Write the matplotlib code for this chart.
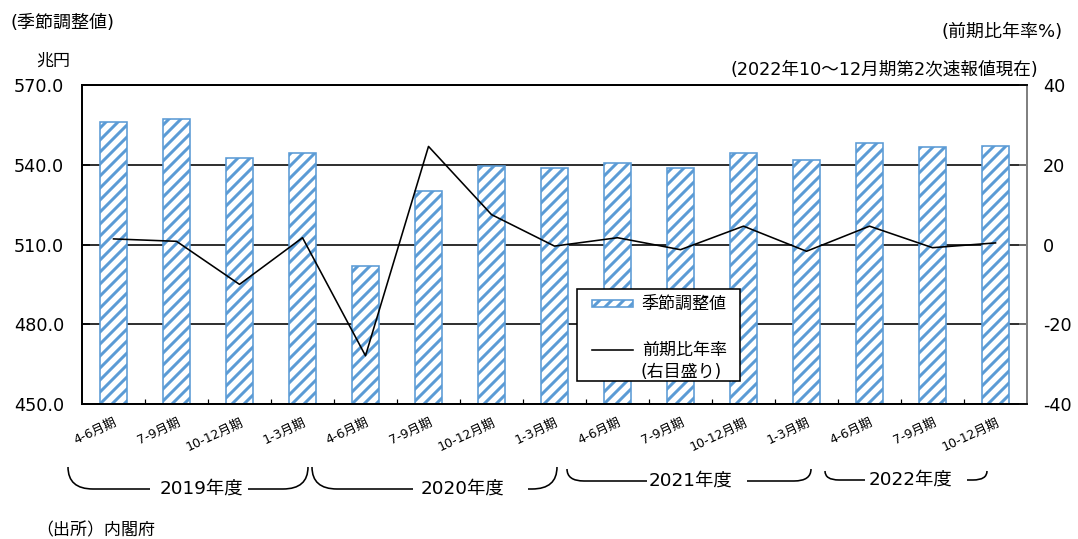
import matplotlib
matplotlib.use("Agg")
import matplotlib.pyplot as plt
from matplotlib.patches import Rectangle, PathPatch
from matplotlib.lines import Line2D
from matplotlib.path import Path
from matplotlib.ticker import FixedLocator

# ---------------- data ----------------
quarters = ["4-6月期", "7-9月期", "10-12月期", "1-3月期",
            "4-6月期", "7-9月期", "10-12月期", "1-3月期",
            "4-6月期", "7-9月期", "10-12月期", "1-3月期",
            "4-6月期", "7-9月期", "10-12月期"]
gdp_sa = [555.9, 557.1, 542.5, 544.4,
          501.9, 530.0, 539.4, 538.8,
          540.6, 538.8, 544.4, 541.9,
          548.1, 546.5, 547.1]
qoq_annual = [1.4, 0.8, -10.0, 1.7,
              -27.9, 24.6, 7.5, -0.4,
              1.7, -1.3, 4.6, -1.7,
              4.6, -0.8, 0.4]
fiscal_years = ["2019年度", "2020年度", "2021年度", "2022年度"]
left_ticks = [450, 480, 510, 540, 570]
right_ticks = [-40, -20, 0, 20, 40]

# ---------------- style ----------------
DPI = 144
W, H = 1078, 539
BLUE = "#5B9BD5"
FONT = ["DejaVu Sans", "Noto Sans CJK JP"]
plt.rcParams["font.family"] = FONT
plt.rcParams["hatch.linewidth"] = 1.5
plt.rcParams["hatch.color"] = BLUE
HATCH = "////"

fig = plt.figure(figsize=(W / DPI, H / DPI), dpi=DPI)


def fx(px):
    return px / W


def fy(py):
    return 1 - py / H


ax = fig.add_axes([fx(82), fy(404), fx(1027) - fx(82), fy(85) - fy(404)])
ax2 = ax.twinx()

x = list(range(len(quarters)))
ax.bar(x, gdp_sa, width=0.42, color="white", edgecolor=BLUE,
       linewidth=0.8, hatch=HATCH, zorder=2)
ax.set_ylim(450, 570)
ax.set_xlim(-0.5, len(quarters) - 0.5)
ax.set_yticks(left_ticks)
ax.set_yticklabels([f"{v:.1f}" for v in left_ticks], fontsize=8.8)
ax.tick_params(axis="y", direction="in", length=4, width=0.75, pad=9)
ax.set_axisbelow(True)
ax.grid(axis="y", color="black", linewidth=0.8)
ax.set_xticks(x)
ax.set_xticklabels(quarters, fontsize=6.3, rotation=25, ha="right",
                   va="top", rotation_mode="anchor")
ax.tick_params(axis="x", which="major", length=0, pad=6)
ax.xaxis.set_minor_locator(FixedLocator([i + 0.5 for i in x[:-1]]))
ax.tick_params(axis="x", which="minor", direction="in", length=2.5, width=0.6)

ax2.plot(x, qoq_annual, color="black", linewidth=0.8, zorder=3)
ax2.set_ylim(-40, 40)
ax2.set_yticks(right_ticks)
ax2.set_yticklabels([str(v) for v in right_ticks], fontsize=8.8)
ax2.tick_params(axis="y", direction="in", length=4, width=0.75,
                color="#808080", pad=8)

for a in (ax, ax2):
    for s in ("left", "top", "bottom"):
        a.spines[s].set_color("black")
        a.spines[s].set_linewidth(0.9)
    a.spines["right"].set_color("#808080")
    a.spines["right"].set_linewidth(0.9)

# ---------------- texts ----------------
fig.text(fx(10), fy(23), "(季節調整値)", fontsize=9, ha="left", va="center")
fig.text(fx(36), fy(61), "兆円", fontsize=8.5, ha="left", va="center")
fig.text(fx(1063), fy(32), "(前期比年率%)", fontsize=9, ha="right", va="center")
fig.text(fx(1038), fy(70), "(2022年10～12月期第2次速報値現在)", fontsize=8.8,
         ha="right", va="center")
fig.text(fx(36), fy(530), "（出所）内閣府", fontsize=8.5, ha="left", va="center")

# ---------------- legend (manual) ----------------
fig.add_artist(Rectangle((fx(577), fy(381)), fx(740) - fx(577), fy(289) - fy(381),
                         transform=fig.transFigure, facecolor="white",
                         edgecolor="black", linewidth=0.8, zorder=5))
fig.add_artist(Rectangle((fx(592), fy(307)), fx(633) - fx(592), fy(300) - fy(307),
                         transform=fig.transFigure, facecolor="white",
                         edgecolor=BLUE, hatch=HATCH, linewidth=0.8, zorder=6))
fig.text(fx(642), fy(304), "季節調整値", fontsize=8.5, ha="left", va="center", zorder=7)
fig.add_artist(Line2D([fx(592), fx(633)], [fy(350), fy(350)], color="black",
                      linewidth=0.8, transform=fig.transFigure, zorder=6))
fig.text(fx(642), fy(350), "前期比年率", fontsize=8.5, ha="left", va="center", zorder=7)
fig.text(fx(640), fy(372), "(右目盛り)", fontsize=8.5, ha="left", va="center", zorder=7)

# ---------------- fiscal-year brackets ----------------
brackets = [
    # x0, x1, left line end, right line start, ytop, ybot, r, text center
    (68, 308, 150, 248, 467, 489, 25, 201),
    (312, 557, 413, 528, 467, 489, 25, 463),
    (567, 811, 647, 747, 469, 481, 17, 690),
    (825, 987, 865, 967, 471, 480, 14, 910),
]
for (x0, x1, xl, xr, yt, yb, r, xt), lab in zip(brackets, fiscal_years):
    verts = [(fx(x0), fy(yt)), (fx(x0), fy(yb)), (fx(x0 + r), fy(yb)), (fx(xl), fy(yb)),
             (fx(xr), fy(yb)), (fx(x1 - r), fy(yb)), (fx(x1), fy(yb)), (fx(x1), fy(yt))]
    codes = [Path.MOVETO, Path.CURVE3, Path.CURVE3, Path.LINETO,
             Path.MOVETO, Path.LINETO, Path.CURVE3, Path.CURVE3]
    fig.add_artist(PathPatch(Path(verts, codes), transform=fig.transFigure,
                             facecolor="none", edgecolor="black", linewidth=0.8))
    fig.text(fx(xt), fy(yb), lab, fontsize=9.2, ha="center", va="center")

fig.savefig("out.png", dpi=DPI)
